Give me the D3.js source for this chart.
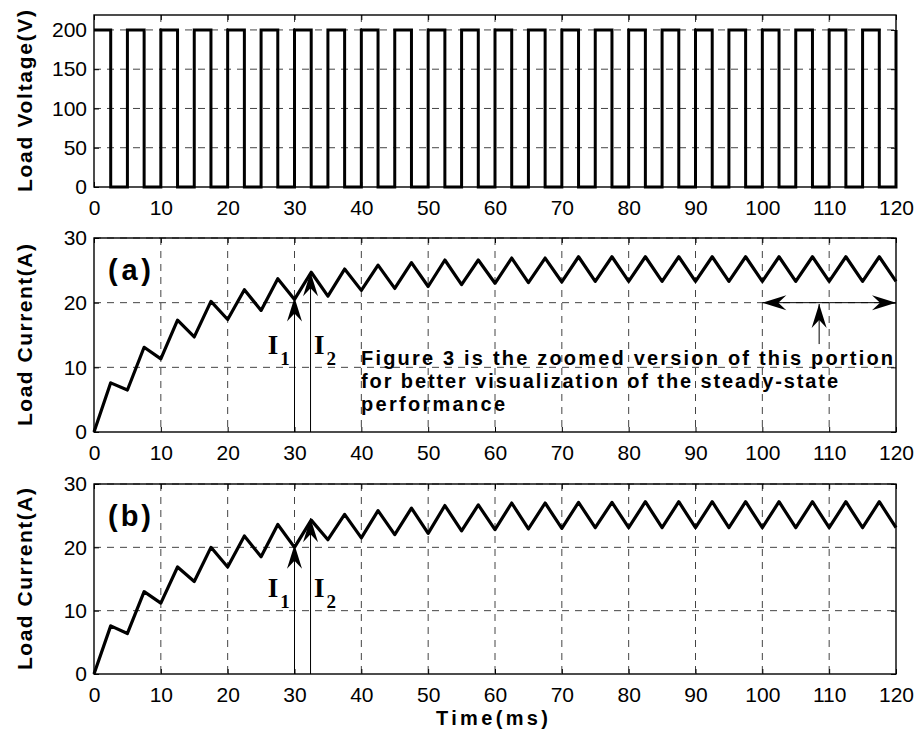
<!doctype html>
<meta charset="utf-8" />
<script src="https://cdn.jsdelivr.net/npm/d3@7/dist/d3.min.js"></script>
<style>
    body {
        margin: 0;
        background: white;
    }

    svg {
        display: block;
        font-family: "Liberation Sans", Arial, Helvetica, sans-serif;
    }
</style>
<svg id="chart"></svg>
<script>
    // switching instants of the chopper (ms)
    var switchTimes = [0, 2.5, 5, 7.5, 10, 12.5, 15, 17.5, 20, 22.5, 25, 27.5, 30, 32.5, 35, 37.5,
        40, 42.5, 45, 47.5, 50, 52.5, 55, 57.5, 60, 62.5, 65, 67.5, 70, 72.5, 75, 77.5,
        80, 82.5, 85, 87.5, 90, 92.5, 95, 97.5, 100, 102.5, 105, 107.5, 110, 112.5, 115, 117.5, 120];

    // load voltage held from each switching instant to the next (V)
    var voltageSteps = [200, 0, 200, 0, 200, 0, 200, 0, 200, 0, 200, 0, 200, 0, 200, 0,
        200, 0, 200, 0, 200, 0, 200, 0, 200, 0, 200, 0, 200, 0, 200, 0,
        200, 0, 200, 0, 200, 0, 200, 0, 200, 0, 200, 0, 200, 0, 200, 0, 200];

    // load current at each switching instant (A)
    var currentA = [0, 7.6, 6.5, 13.1, 11.3, 17.3, 14.7, 20.2, 17.4, 22.0, 18.8, 23.7, 20.5, 24.7, 21.0, 25.2,
        21.9, 25.8, 22.2, 26.2, 22.5, 26.6, 22.8, 26.6, 23.0, 26.9, 23.1, 26.9, 23.2, 27.1, 23.3, 27.1,
        23.3, 27.1, 23.3, 27.1, 23.3, 27.1, 23.3, 27.1, 23.3, 27.1, 23.3, 27.1, 23.3, 27.1, 23.3, 27.1, 23.3];

    var currentB = [0, 7.6, 6.4, 13.0, 11.2, 16.9, 14.6, 20.0, 16.9, 21.8, 18.5, 23.6, 20.0, 24.3, 21.2, 25.2,
        21.5, 25.8, 22.0, 26.2, 22.2, 26.6, 22.6, 26.7, 22.8, 27.0, 22.9, 27.0, 23.0, 27.1, 23.1, 27.1,
        23.1, 27.2, 23.1, 27.2, 23.1, 27.2, 23.1, 27.2, 23.1, 27.2, 23.1, 27.2, 23.1, 27.2, 23.1, 27.2, 23.1];

    var timeTicks = [0, 10, 20, 30, 40, 50, 60, 70, 80, 90, 100, 110, 120];
    var voltageTicks = [0, 50, 100, 150, 200];
    var currentTicks = [0, 10, 20, 30];

    var width = 918, height = 735;
    var left = 94, right = 896;

    var svg = d3.select('#chart')
        .attr('width', width)
        .attr('height', height);

    var x = d3.scaleLinear().domain([0, 120]).range([left, right]);

    function panel(top, bottom, yMax, yTicks, label) {
        var y = d3.scaleLinear().domain([0, yMax]).range([bottom, top]);
        var g = svg.append('g');

        // dashed grid
        g.selectAll('.vgrid')
            .data(timeTicks.slice(1, -1))
            .enter().append('line')
            .attr('x1', d => x(d)).attr('x2', d => x(d))
            .attr('y1', top).attr('y2', bottom)
            .attr('stroke', '#444').attr('stroke-width', 1)
            .attr('stroke-dasharray', '7,6');
        g.selectAll('.hgrid')
            .data(yTicks.slice(1))
            .enter().append('line')
            .attr('x1', left).attr('x2', right)
            .attr('y1', d => y(d)).attr('y2', d => y(d))
            .attr('stroke', '#444').attr('stroke-width', 1)
            .attr('stroke-dasharray', '7,6');

        // axes with inward ticks
        var bottomAxis = g.append('g')
            .attr('transform', 'translate(0,' + bottom + ')')
            .call(d3.axisBottom(x).tickValues(timeTicks).tickSizeInner(-5).tickSizeOuter(0).tickPadding(13));
        g.append('g')
            .attr('transform', 'translate(0,' + top + ')')
            .call(d3.axisTop(x).tickValues(timeTicks).tickSizeInner(-5).tickSizeOuter(0).tickFormat(''));
        var leftAxis = g.append('g')
            .attr('transform', 'translate(' + left + ',0)')
            .call(d3.axisLeft(y).tickValues(yTicks).tickSizeInner(-5).tickSizeOuter(0).tickPadding(7));
        g.append('g')
            .attr('transform', 'translate(' + right + ',0)')
            .call(d3.axisRight(y).tickValues(yTicks).tickSizeInner(-5).tickSizeOuter(0).tickFormat(''));

        g.selectAll('.domain').remove();
        g.selectAll('.tick line').attr('stroke', '#000');
        [bottomAxis, leftAxis].forEach(a => a.selectAll('text')
            .attr('font-family', '"Liberation Sans", Arial, sans-serif')
            .attr('font-size', 21)
            .attr('fill', '#000'));

        g.append('rect')
            .attr('x', left).attr('y', top)
            .attr('width', right - left).attr('height', bottom - top)
            .attr('fill', 'none').attr('stroke', '#000').attr('stroke-width', 1.4);

        svg.append('text')
            .attr('transform', 'translate(32,' + (top + bottom) / 2 + ') rotate(-90)')
            .attr('text-anchor', 'middle')
            .attr('font-weight', 'bold')
            .attr('font-size', 21)
            .attr('textLength', 182)
            .attr('lengthAdjust', 'spacing')
            .text(label);

        return { g: g, y: y, top: top, bottom: bottom };
    }

    function arrowHead(g, tx, ty, dx, dy) {
        var len = Math.sqrt(dx * dx + dy * dy);
        dx /= len; dy /= len;
        var L = 24, W = 7.5, N = 8;
        var bx = tx - L * dx, by = ty - L * dy;
        var nx = tx - (L - N) * dx, ny = ty - (L - N) * dy;
        var p = d3.path();
        p.moveTo(tx, ty);
        p.lineTo(bx - W * dy, by + W * dx);
        p.lineTo(nx, ny);
        p.lineTo(bx + W * dy, by - W * dx);
        p.closePath();
        g.append('path').attr('d', p.toString()).attr('fill', '#000');
    }

    function arrow(pn, t1, v1, t2, v2) {
        var x1 = x(t1), y1 = pn.y(v1), x2 = x(t2), y2 = pn.y(v2);
        pn.g.append('line')
            .attr('x1', x1).attr('y1', y1).attr('x2', x2).attr('y2', y2)
            .attr('stroke', '#000').attr('stroke-width', 1);
        arrowHead(pn.g, x2, y2, x2 - x1, y2 - y1);
    }

    function currentLabel(pn, t, v, sub) {
        pn.g.append('text')
            .attr('x', x(t)).attr('y', pn.y(v))
            .style('font-family', '"Liberation Serif", "Times New Roman", serif')
            .attr('font-weight', 'bold')
            .attr('font-size', 27)
            .text('I')
            .append('tspan')
            .attr('dx', 2).attr('dy', 11)
            .attr('font-size', 19)
            .text(sub);
    }

    // ---- top: load voltage ----
    var pv = panel(15, 187, 219, voltageTicks, 'Load Voltage(V)');
    pv.g.append('path')
        .datum(switchTimes)
        .attr('fill', 'none')
        .attr('stroke', '#000')
        .attr('stroke-width', 3)
        .attr('stroke-linejoin', 'miter')
        .attr('d', d3.line()
            .x(d => x(d))
            .y((d, i) => pv.y(voltageSteps[i]))
            .curve(d3.curveStepAfter));

    // ---- (a) and (b): load current ----
    function currentPanel(top, bottom, values, tag, i1, i2) {
        var pn = panel(top, bottom, 30, currentTicks, 'Load Current(A)');
        pn.g.append('path')
            .datum(switchTimes)
            .attr('fill', 'none')
            .attr('stroke', '#000')
            .attr('stroke-width', 3.2)
            .attr('stroke-linejoin', 'round')
            .attr('d', d3.line()
                .x(d => x(d))
                .y((d, i) => pn.y(values[i])));

        pn.g.append('text')
            .attr('x', x(2.1)).attr('y', top + 42)
            .attr('font-weight', 'bold')
            .attr('font-size', 29)
            .attr('textLength', 43)
            .attr('lengthAdjust', 'spacing')
            .text(tag);

        arrow(pn, 30, 0, 30, i1);
        arrow(pn, 32.4, 0, 32.4, i2);
        currentLabel(pn, 26.0, 12.1, '1');
        currentLabel(pn, 32.9, 12.1, '2');
        return pn;
    }

    var pa = currentPanel(238, 432, currentA, '(a)', 20.8, 24.7);
    var pb = currentPanel(484, 674, currentB, '(b)', 20.4, 24.6);

    // zoom-region note in (a)
    arrow(pa, 110, 20, 100, 20);
    arrow(pa, 110, 20, 120, 20);
    arrow(pa, 108.5, 13.6, 108.5, 19.8);

    var note = [
        { s: 'Figure 3 is the zoomed version of this portion', w: 532 },
        { s: 'for better visualization of the steady-state', w: 477 },
        { s: 'performance', w: 144 }
    ];
    pa.g.selectAll('.note')
        .data(note)
        .enter().append('text')
        .attr('x', 361)
        .attr('y', (d, i) => 365 + i * 23)
        .attr('font-weight', 'bold')
        .attr('font-size', 20)
        .attr('textLength', d => d.w)
        .attr('lengthAdjust', 'spacing')
        .text(d => d.s);

    svg.append('text')
        .attr('x', (left + right) / 2 - 3)
        .attr('y', 725)
        .attr('text-anchor', 'middle')
        .attr('font-weight', 'bold')
        .attr('font-size', 20)
        .attr('textLength', 112)
        .attr('lengthAdjust', 'spacing')
        .text('Time(ms)');
</script>
